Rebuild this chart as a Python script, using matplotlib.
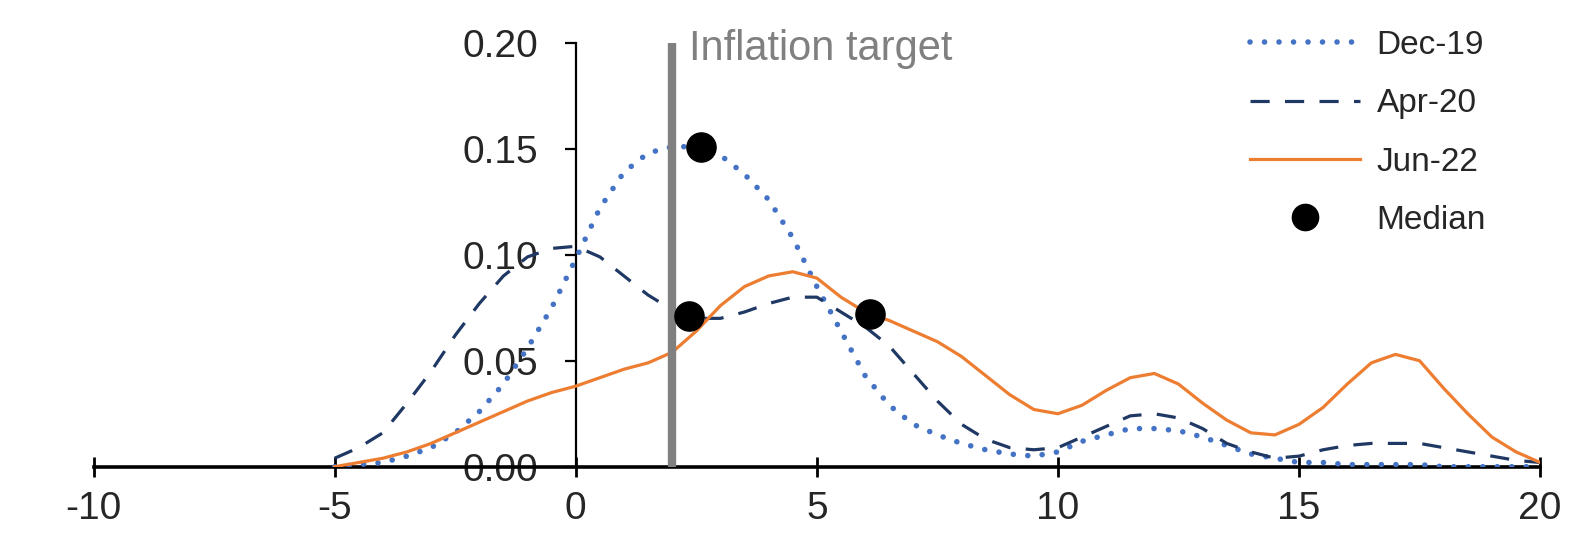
import numpy as np
import matplotlib
matplotlib.use("Agg")
import matplotlib.pyplot as plt

plt.rcParams['font.family'] = ['Liberation Sans', 'DejaVu Sans']
plt.rcParams['axes.unicode_minus'] = False

# inflation outcome grid, half-point steps
x_grid = np.arange(-5, 20.01, 0.5)

dec19 = [0.000, 0.001, 0.002, 0.005, 0.009, 0.016, 0.026, 0.039, 0.056, 0.075,
         0.098, 0.122, 0.139, 0.148, 0.151, 0.151, 0.147, 0.138, 0.126, 0.108,
         0.085, 0.064, 0.043, 0.029, 0.020, 0.015, 0.011, 0.008, 0.006, 0.005,
         0.007, 0.012, 0.015, 0.018, 0.018, 0.017, 0.014, 0.010, 0.006, 0.004,
         0.002, 0.002, 0.001, 0.001, 0.001, 0.001, 0.000, 0.000, 0.000, 0.000,
         0.000]

apr20 = [0.004, 0.009, 0.016, 0.030, 0.045, 0.062, 0.077, 0.090, 0.099, 0.103,
         0.104, 0.099, 0.090, 0.081, 0.074, 0.070, 0.070, 0.073, 0.077, 0.080,
         0.080, 0.073, 0.066, 0.057, 0.044, 0.031, 0.020, 0.013, 0.009, 0.008,
         0.009, 0.014, 0.019, 0.024, 0.025, 0.023, 0.018, 0.011, 0.007, 0.004,
         0.005, 0.008, 0.010, 0.011, 0.011, 0.011, 0.009, 0.007, 0.005, 0.003,
         0.002]

jun22 = [0.000, 0.002, 0.004, 0.007, 0.011, 0.016, 0.021, 0.026, 0.031, 0.035,
         0.038, 0.042, 0.046, 0.049, 0.054, 0.064, 0.076, 0.085, 0.090, 0.092,
         0.089, 0.080, 0.073, 0.069, 0.064, 0.059, 0.052, 0.043, 0.034, 0.027,
         0.025, 0.029, 0.036, 0.042, 0.044, 0.039, 0.030, 0.022, 0.016, 0.015,
         0.020, 0.028, 0.039, 0.049, 0.053, 0.050, 0.037, 0.025, 0.014, 0.007,
         0.002]

median_x = [2.6, 2.35, 6.1]
median_y = [0.151, 0.071, 0.072]

target = 2.0
x_ticks = [-10, -5, 0, 5, 10, 15, 20]
y_ticks = [0.00, 0.05, 0.10, 0.15, 0.20]

fig = plt.figure(figsize=(15.94, 5.4), dpi=100)
ax = fig.add_axes([0.0587, 0.1357, 0.9075, 0.785])

ax.plot(x_grid, dec19, color='#4472C4', lw=4, linestyle=(0, (0.01, 2.6)),
        dash_capstyle='round', label='Dec-19', zorder=3)
ax.plot(x_grid, apr20, color='#1F3864', lw=2.3, linestyle=(0, (6, 4.8)),
        label='Apr-20', zorder=3)
ax.plot(x_grid, jun22, color='#ED7D31', lw=2.3, label='Jun-22', zorder=3)
ax.plot(median_x, median_y, 'o', color='black', ms=21, ls='none',
        label='Median', zorder=5)

ax.plot([target, target], [0, 0.20], color='#808080', lw=6, zorder=4,
        solid_capstyle='butt')
ax.text(target + 0.35, 0.197, 'Inflation target', color='#808080',
        fontsize=30, ha='left', va='center')

ax.set_xlim(-10, 20)
ax.set_ylim(0, 0.20)
ax.set_xticks(x_ticks)
ax.set_yticks(y_ticks)
ax.set_yticklabels(['%.2f' % v for v in y_ticks])

ax.spines['left'].set_position(('data', 0))
ax.spines['bottom'].set_position(('data', 0))
ax.spines['top'].set_visible(False)
ax.spines['right'].set_visible(False)
ax.spines['left'].set_linewidth(1.6)
ax.spines['bottom'].set_linewidth(2.6)

ax.tick_params(axis='x', direction='inout', length=15, width=2,
               labelsize=28, pad=10, colors='black', labelcolor='#262626')
ax.tick_params(axis='y', direction='out', length=8, width=1.6,
               labelsize=28, pad=19, colors='black', labelcolor='#262626')

leg = ax.legend(loc='upper right', bbox_to_anchor=(1486 / 1594, 1 - 30 / 540),
                bbox_transform=fig.transFigure, frameon=False, fontsize=24,
                handlelength=3.3, handletextpad=0.5, labelspacing=0.82,
                borderpad=0, borderaxespad=0, markerscale=0.9)
for t in leg.get_texts():
    t.set_color('#262626')

fig.savefig('out.png', dpi=100)
